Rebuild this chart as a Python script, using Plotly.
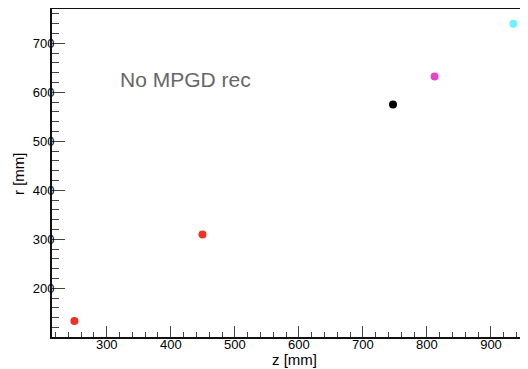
import plotly.graph_objects as go

# Data
z_vals = [249.5, 449.5, 747, 812, 935]
r_vals = [133, 310, 575, 632, 740]
point_colors = ["#ee3224", "#ee3224", "#000000", "#e645c8", "#6ef2fb"]

x_tick_vals = [300, 400, 500, 600, 700, 800, 900]
y_tick_vals = [200, 300, 400, 500, 600, 700]

label_text = "No MPGD rec"
x_title = "z [mm]"
y_title = "r [mm]"

font_family = "Liberation Sans, Arial, Helvetica, sans-serif"

# page has an 8px body margin, so the figure is sized to fit inside it
W, H = 520, 361
ml, mr, mt, mb = 44, 0, 1, 32
pw, ph = W - ml - mr, H - mt - mb


def px_to_paper(px, py):
    fx, fy = px - 8, py - 8
    return (fx - ml) / pw, 1 - (fy - mt) / ph


fig = go.Figure()
fig.add_trace(go.Scatter(
    x=z_vals, y=r_vals, mode="markers",
    marker=dict(color=point_colors, size=8, line=dict(width=0)),
    showlegend=False, hoverinfo="skip",
))

ax, ay = px_to_paper(118, 80)
fig.add_annotation(
    x=ax, y=ay, xref="paper", yref="paper", text=label_text, showarrow=False,
    font=dict(family=font_family, size=21, color="#666666"),
    xanchor="left", yanchor="middle",
)
tx, ty = px_to_paper(294, 359)
fig.add_annotation(
    x=tx, y=ty, xref="paper", yref="paper", text=x_title, showarrow=False,
    font=dict(family=font_family, size=15, color="black"),
    xanchor="center", yanchor="middle",
)
tx, ty = px_to_paper(18, 174)
fig.add_annotation(
    x=tx, y=ty, xref="paper", yref="paper", text=y_title, showarrow=False,
    font=dict(family=font_family, size=15, color="black"), textangle=-90,
    xanchor="center", yanchor="middle",
)

fig.update_layout(
    width=W, height=H,
    margin=dict(l=ml, r=mr, t=mt, b=mb, pad=0),
    paper_bgcolor="white", plot_bgcolor="white",
    font=dict(family=font_family, size=13, color="black"),
    xaxis=dict(
        range=[214.5, 957.8], tickvals=x_tick_vals, ticks="inside", ticklen=11,
        tickwidth=1, tickcolor="#444", showgrid=False, zeroline=False,
        showline=True, linecolor="#111", linewidth=2, mirror=True,
        minor=dict(dtick=20, tick0=0, ticks="inside", ticklen=5, tickcolor="#444", tickwidth=1),
        tickfont=dict(size=13), ticklabelstandoff=-6,
    ),
    yaxis=dict(
        range=[100.6, 770], tickvals=y_tick_vals, ticks="inside", ticklen=13,
        tickwidth=1, tickcolor="#444", showgrid=False, zeroline=False,
        showline=True, linecolor="#111", linewidth=2, mirror=False,
        minor=dict(dtick=20, tick0=0, ticks="inside", ticklen=7, tickcolor="#444", tickwidth=1),
        tickfont=dict(size=13), ticklabelstandoff=-7,
    ),
)

fig.write_html("out.html")
